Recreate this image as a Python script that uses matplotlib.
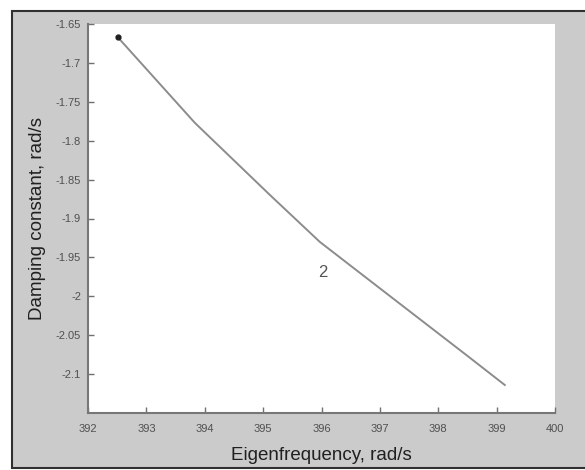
import matplotlib
matplotlib.use('Agg')
import matplotlib.pyplot as plt
import matplotlib.patches as mpatches

# values (mode 2)
freq = [392.51, 393.83, 395.12, 395.97, 396.78, 398.49, 399.14]
damp = [-1.667, -1.777, -1.870, -1.930, -1.977, -2.076, -2.114]
xticks = [392, 393, 394, 395, 396, 397, 398, 399, 400]
yticks = [-1.65, -1.7, -1.75, -1.8, -1.85, -1.9, -1.95, -2, -2.05, -2.1]
ytick_labels = ['-1.65', '-1.7', '-1.75', '-1.8', '-1.85', '-1.9', '-1.95', '-2', '-2.05', '-2.1']

plt.rcParams['font.family'] = ['Liberation Sans', 'DejaVu Sans']

fig = plt.figure(figsize=(5.85, 4.7), dpi=100)
fig.patch.set_facecolor('white')
# gray window panel with dark frame
panel = mpatches.Rectangle((12/585, 2/470), 1.0, 457/470, transform=fig.transFigure,
                           facecolor='#cbcbcb', edgecolor='#303030', linewidth=1.5, zorder=-10)
fig.patches.append(panel)

ax = fig.add_axes([88/585, 57/470, 467/585, 389/470])
ax.set_facecolor('white')
ax.plot(freq, damp, color='#8c8c8c', linewidth=1.4)
ax.plot(freq[0], damp[0], 'o', color='#202020', markersize=3.5)
ax.text(396.03, -1.97, '2', fontsize=12, color='#555555', ha='center', va='center')

ax.set_xlim(392, 400)
ax.set_ylim(-2.15, -1.65)
ax.set_xticks(xticks)
ax.set_xticklabels([str(t) for t in xticks])
ax.set_yticks(yticks)
ax.set_yticklabels(ytick_labels)
ax.tick_params(direction='in', length=4, width=1, colors='#707070', labelcolor='#505050', labelsize=8)
ax.tick_params(axis='x', pad=8)
ax.tick_params(axis='y', pad=5)
for s in ['top', 'right']:
    ax.spines[s].set_visible(False)
for s in ['left', 'bottom']:
    ax.spines[s].set_color('#777777')
    ax.spines[s].set_linewidth(1.5)

ax.set_xlabel('Eigenfrequency, rad/s', fontsize=13.5, color='#202020', labelpad=9)
ax.set_ylabel('Damping constant, rad/s', fontsize=13.5, color='#202020', labelpad=7)

fig.savefig('out.png', dpi=100, facecolor=fig.get_facecolor())
